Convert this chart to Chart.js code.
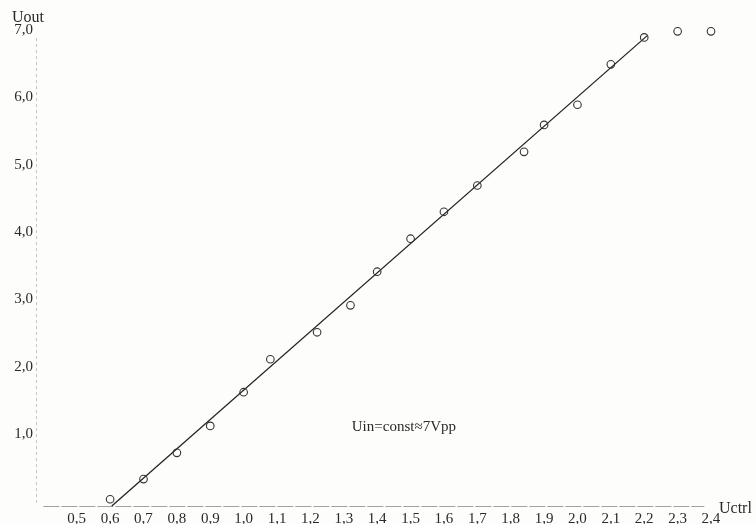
<!DOCTYPE html>
<html>
<head>
<meta charset="utf-8">
<script src="https://cdn.jsdelivr.net/npm/chart.js@4/dist/chart.umd.min.js"></script>
<style>
  html, body { margin: 0; padding: 0; background: #fdfdfc; }
  #wrap { width: 756px; height: 524px; position: relative; }
</style>
</head>
<body>
<div id="wrap"><canvas id="c" width="756" height="524"></canvas></div>
<script>
// Measured data (Uctrl, Uout)
const uctrl = [0.60, 0.70, 0.80, 0.90, 1.00, 1.08, 1.22, 1.32, 1.40, 1.50, 1.60, 1.70, 1.84, 1.90, 2.00, 2.10, 2.20, 2.30, 2.40];
const uout  = [0.03, 0.33, 0.72, 1.12, 1.62, 2.11, 2.51, 2.91, 3.41, 3.90, 4.30, 4.69, 5.19, 5.59, 5.89, 6.49, 6.89, 6.98, 6.98];
// Fitted straight line (start, end)
const fitX = [0.605, 2.21];
const fitY = [-0.07, 6.92];
// Tick labels
const xTicks = [0.5, 0.6, 0.7, 0.8, 0.9, 1.0, 1.1, 1.2, 1.3, 1.4, 1.5, 1.6, 1.7, 1.8, 1.9, 2.0, 2.1, 2.2, 2.3, 2.4];
const yTicks = [1, 2, 3, 4, 5, 6, 7];
const xAxisExtent = [0.4, 2.38];
const yAxisExtent = [-0.02, 6.88];
const annotationText = 'Uin=const\u22487Vpp';
const annotationPos = { x: 1.48, y: 1.1 };

const SERIF = '"Liberation Serif", "DejaVu Serif", serif';
const fmt = v => v.toFixed(1).replace('.', ',');

const axesAndTexts = {
  id: 'axesAndTexts',
  beforeDatasetsDraw(chart) {
    const ctx = chart.ctx;
    const xs = chart.scales.x, ys = chart.scales.y;
    ctx.save();
    ctx.lineWidth = 1;
    // x axis
    ctx.strokeStyle = '#a2a2a2';
    ctx.setLineDash([16, 2]);
    ctx.beginPath();
    const yb = Math.round(ys.bottom) + 0.5;
    ctx.moveTo(xs.getPixelForValue(xAxisExtent[0]), yb);
    ctx.lineTo(xs.getPixelForValue(xAxisExtent[1]), yb);
    ctx.stroke();
    // y axis
    ctx.strokeStyle = '#c4c4c4';
    ctx.setLineDash([3, 3]);
    ctx.beginPath();
    const xl = Math.round(xs.left) + 0.5;
    ctx.moveTo(xl, ys.getPixelForValue(yAxisExtent[1]));
    ctx.lineTo(xl, ys.getPixelForValue(yAxisExtent[0]));
    ctx.stroke();
    ctx.restore();
  },
  afterDraw(chart) {
    const ctx = chart.ctx;
    const xs = chart.scales.x, ys = chart.scales.y;
    ctx.save();
    ctx.fillStyle = '#2a2a2a';
    ctx.font = '16px ' + SERIF;
    ctx.textBaseline = 'middle';
    ctx.textAlign = 'left';
    ctx.fillText('Uout', 12, 18);
    ctx.fillText('Uctrl', 719, 509);
    ctx.font = '15px ' + SERIF;
    ctx.textAlign = 'center';
    ctx.fillText(annotationText, xs.getPixelForValue(annotationPos.x), ys.getPixelForValue(annotationPos.y));
    ctx.restore();
  }
};

new Chart(document.getElementById('c'), {
  type: 'scatter',
  data: {
    datasets: [
      {
        data: uctrl.map((x, i) => ({ x, y: uout[i] })),
        showLine: false,
        pointStyle: 'circle',
        pointRadius: 3.8,
        pointBorderWidth: 1.1,
        pointBorderColor: '#333',
        pointBackgroundColor: 'rgba(0,0,0,0)',
        clip: false
      },
      {
        data: fitX.map((x, i) => ({ x, y: fitY[i] })),
        showLine: true,
        borderColor: '#222',
        borderWidth: 1.3,
        pointRadius: 0,
        clip: false
      }
    ]
  },
  options: {
    responsive: false,
    animation: false,
    events: [],
    layout: { padding: { top: 30, right: 40, left: 0, bottom: 0 } },
    plugins: { legend: { display: false }, tooltip: { enabled: false } },
    scales: {
      x: {
        type: 'linear',
        min: 0.378,
        max: 2.415,
        afterBuildTicks: s => { s.ticks = xTicks.map(v => ({ value: v })); },
        afterFit: s => { s.height = 18; },
        grid: { display: false, drawTicks: false },
        border: { display: false },
        ticks: {
          padding: 4,
          color: '#2a2a2a',
          font: { family: SERIF, size: 15 },
          maxRotation: 0,
          autoSkip: false,
          callback: v => fmt(v)
        }
      },
      y: {
        type: 'linear',
        min: -0.07,
        max: 7.0,
        afterBuildTicks: s => { s.ticks = yTicks.map(v => ({ value: v })); },
        afterFit: s => { s.width = 36; },
        grid: { display: false, drawTicks: false },
        border: { display: false },
        ticks: {
          padding: 3,
          color: '#2a2a2a',
          font: { family: SERIF, size: 15 },
          autoSkip: false,
          callback: v => fmt(v)
        }
      }
    }
  },
  plugins: [axesAndTexts]
});
</script>
</body>
</html>
